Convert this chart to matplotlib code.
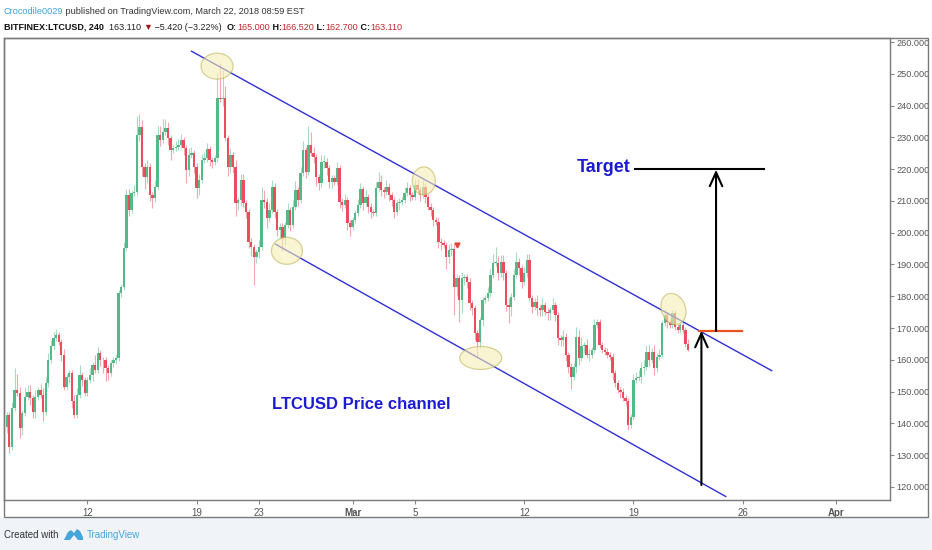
import pandas as pd
import matplotlib
matplotlib.use("Agg")
import matplotlib.pyplot as plt
import matplotlib.dates as mdates
import matplotlib.transforms as mtransforms
from matplotlib.patches import Rectangle, Ellipse, Polygon

# BITFINEX:LTCUSD 240 min candles
first_open = 139.0
start = "2018-02-06 20:00"

closes = [
    # Feb 6 - Feb 14
    142.7, 132.7, 144.8, 150.5, 149.5, 138.5, 143.2, 148.4, 150.0, 147.9,
    143.7, 148.4, 150.5, 149.0, 143.7, 152.6, 160.0, 164.2, 166.8, 167.8,
    165.7, 161.5, 151.6, 154.7, 155.8, 146.9, 142.7, 149.0, 155.3, 153.7,
    149.5, 153.7, 155.3, 158.4, 156.8, 162.1, 160.0, 159.8, 157.3, 155.8,
    158.9, 159.8, 160.5,
    # Feb 14 - Feb 22
    180.9, 183.0, 195.1, 211.9, 207.1, 212.4, 212.9, 230.7, 233.4, 220.8,
    217.6, 220.8, 211.9, 210.8, 214.5, 230.7, 229.2, 231.8, 232.8, 229.7,
    226.0, 226.6, 226.9, 227.6, 229.2, 226.6, 219.7, 224.5, 225.0, 220.8,
    214.0, 216.6, 222.9, 223.4, 226.2, 222.9, 222.4, 223.4, 242.3, 242.0,
    242.3, 229.7, 220.8, 224.5, 220.8, 209.3, 210.3,
    # Feb 22 - Mar 2
    216.6, 209.2, 206.6, 197.2, 195.6, 192.5, 194.0, 195.6, 210.3, 209.8,
    204.5, 207.2, 214.5, 206.6, 200.9, 201.9, 198.2, 202.4, 207.2, 202.4,
    208.2, 213.4, 210.3, 218.7, 226.0, 219.2, 227.6, 225.0, 223.9, 217.6,
    215.5, 222.4, 222.4, 220.3, 216.1, 217.1, 216.1, 220.3, 209.8, 208.7,
    210.3, 203.0, 201.9, 204.0, 206.1, 208.7,
    # Mar 2 - Mar 10
    213.7, 209.3, 211.3, 208.2, 206.6, 206.1, 214.0, 216.1, 213.4, 212.9,
    214.5, 211.9, 210.3, 206.6, 209.3, 209.8, 210.3, 212.4, 214.0, 211.9,
    211.3, 215.0, 213.4, 211.9, 214.5, 211.3, 208.2, 207.2, 204.0, 203.5,
    197.2, 196.7, 196.1, 192.5, 194.6, 194.8, 183.0, 185.7, 178.8, 185.7,
    186.0, 184.6, 177.8, 176.2, 168.3, 165.7,
    # Mar 10 - Mar 17
    172.5, 178.8, 179.4, 180.9, 186.7, 190.4, 190.6, 187.2, 190.9, 187.2,
    177.3, 176.7, 179.9, 186.7, 190.9, 188.8, 184.6, 187.2, 191.4, 179.4,
    176.7, 178.3, 176.2, 175.7, 177.3, 175.2, 174.6, 175.7, 177.3, 174.1,
    166.8, 166.3, 167.3, 161.5, 157.9, 154.7, 157.9, 167.3, 160.5, 164.2,
    164.7, 161.5, 161.5, 163.1, 171.0, 172.0,
    # Mar 17 - Mar 22
    164.7, 163.1, 162.6, 161.5, 161.0, 155.8, 152.6, 150.5, 150.0, 147.9,
    146.9, 139.5, 142.1, 153.7, 154.2, 154.7, 157.3, 157.9, 162.6, 160.0,
    162.6, 157.3, 161.0, 161.5, 171.5, 174.1, 172.0, 171.0, 174.6, 170.4,
    169.4, 171.0, 169.4, 165.0, 163.11,
]

upper_wick = [
    1, 1, 2, 7, 5, 2, 1, 3, 2, 2, 1, 2, 1, 2, 2, 2, 2, 2, 2, 2,
    1, 1, 2, 1, 1, 1, 2, 2, 3, 1, 1, 1, 2, 1, 3, 2, 1, 1, 1, 1, 1, 1, 1,
    1, 1, 2, 2, 2, 1, 2, 6, 4, 2, 1, 2, 1, 1, 2, 3, 3, 4, 3, 2,
    1, 1, 2, 2, 2, 1, 1, 2, 2, 1, 1, 2, 2, 2, 2, 1, 1, 1, 8, 11, 9, 4, 1, 2, 1, 2, 1,
    2, 2, 1, 1, 1, 1, 1, 2, 4, 3, 1, 2, 2, 1, 1, 1, 1, 1, 2, 1,
    2, 3, 1, 2, 3, 1, 6, 4, 2, 1, 1, 2, 2, 1, 1, 1, 1, 2, 1, 1, 2, 1, 1, 1, 1, 2,
    2, 1, 2, 1, 1, 1, 2, 3, 2, 1, 2, 1, 1, 1, 1, 1, 1, 2, 2, 1,
    1, 2, 2, 1, 2, 1, 1, 1, 1, 1, 1, 1, 1, 1, 2, 2, 2, 1, 1, 2, 1, 1, 1, 1, 1, 1,
    1, 1, 1, 2, 2, 3, 5, 2, 2, 2, 1, 2, 1, 2, 3, 1, 1, 2, 2, 2,
    1, 1, 2, 1, 2, 1, 1, 1, 2, 1, 1, 1, 2, 1, 1, 1, 1, 3, 2, 3, 1, 2, 2, 1, 2, 1,
    1, 1, 1, 1, 1, 1, 1, 1, 1, 1, 1, 1, 1, 2, 2, 2, 2, 2, 2, 2,
    1, 2, 1, 2, 1, 2, 1, 1, 1, 1, 1, 1, 1, 1, 1.52,
]

lower_wick = [
    2, 2, 1, 1, 1, 3, 2, 1, 1, 2, 2, 2, 1, 1, 3, 1, 1, 1, 1, 1,
    1, 2, 1, 1, 2, 2, 1, 1, 1, 2, 1, 1, 1, 2, 1, 1, 2, 4, 4, 2, 1, 1, 1,
    1, 1, 1, 1, 2, 1, 1, 1, 2, 3, 4, 2, 2, 3, 1, 1, 2, 1, 1, 2,
    3, 1, 1, 1, 1, 2, 4, 2, 1, 2, 3, 2, 1, 1, 1, 2, 2, 1, 1, 1, 2, 1, 3, 2, 2, 4, 2,
    2, 1, 2, 2, 3, 9, 2, 2, 1, 2, 3, 1, 1, 2, 2, 3, 4, 2, 1, 2,
    1, 1, 2, 1, 1, 2, 1, 1, 2, 3, 2, 1, 2, 2, 2, 2, 1, 1, 2, 2, 1, 2, 3, 1, 1, 1,
    1, 2, 1, 2, 2, 1, 1, 1, 2, 2, 1, 2, 2, 2, 1, 2, 1, 1, 1, 2,
    1, 1, 1, 2, 1, 2, 1, 2, 2, 1, 2, 2, 1, 4, 2, 2, 9, 3, 7, 4, 2, 2, 2, 2, 2, 5,
    2, 2, 1, 1, 1, 1, 1, 2, 1, 2, 2, 5, 3, 1, 1, 2, 2, 1, 1, 1,
    2, 1, 2, 2, 2, 1, 2, 2, 1, 2, 2, 2, 2, 2, 2, 4, 1, 2, 2, 1, 2, 1, 2, 1, 1, 1,
    1, 1, 1, 1, 1, 2, 1, 1, 2, 1, 1, 1.5, 1, 1, 1, 1, 2, 2, 1, 2,
    1, 2, 1, 1, 1, 1, 2, 1, 1, 1, 1, 1, 1, 1, 0.41,
]

price_ticks = [120, 130, 140, 150, 160, 170, 180, 190, 200, 210, 220, 230, 240, 250, 260]
date_ticks = ["2018-02-12", "2018-02-19", "2018-02-23", "2018-03-01", "2018-03-05",
              "2018-03-12", "2018-03-19", "2018-03-26", "2018-04-01"]
date_labels = ["12", "19", "23", "Mar", "5", "12", "19", "26", "Apr"]

# drawings on the chart
channel_upper = [("2018-02-18 15:20", 257.2), ("2018-03-27 21:30", 156.5)]
channel_lower = [("2018-02-24 00:30", 196.5), ("2018-03-24 22:50", 116.9)]
# touch circles: centre time, centre price, size in px (w, h), tilt in degrees
touch_marks = [
    ("2018-02-20 07:30", 252.4, 32, 26, 0),
    ("2018-02-24 19:00", 194.3, 31, 27, 0),
    ("2018-03-05 13:30", 216.3, 23, 28, 0),
    ("2018-03-09 05:00", 160.6, 42, 23, 0),
    ("2018-03-21 13:30", 176.0, 24, 32, 20),
]
breakout_level = [("2018-03-23 05:20", 169.1), ("2018-03-25 23:20", 169.1)]
arrow_low = [("2018-03-23 08:30", 120.6), ("2018-03-23 08:30", 169.1)]
arrow_up = [("2018-03-24 07:00", 169.1), ("2018-03-24 07:00", 219.8)]
target_line = [("2018-03-19 03:00", 219.9), ("2018-03-27 09:00", 219.9)]
target_text = ("2018-03-17 02:00", 220.4)
channel_text = ("2018-03-01 14:00", 145.8)
event_mark = ("2018-03-07 16:30", 196.1)

UP = "#53b987"
DOWN = "#eb4d5c"
BLUE_LINE = "#2f2fd6"
TEXT_BLUE = "#1b1bd3"
GRAY = "#555555"

times = pd.date_range(start, periods=len(closes), freq="4h")
x = mdates.date2num(times)
opens = [first_open] + closes[:-1]
highs = [max(o, c) + w for o, c, w in zip(opens, closes, upper_wick)]
lows = [min(o, c) - w for o, c, w in zip(opens, closes, lower_wick)]
colors = [UP if c >= o else DOWN for o, c in zip(opens, closes)]

W, H = 932, 550
DPI = 100
fig = plt.figure(figsize=(W / DPI, H / DPI), dpi=DPI)
fig.patch.set_facecolor("white")

# bottom strip
fig.add_artist(Rectangle((0, 0), 1, 33 / H, transform=fig.transFigure,
                         facecolor="#f0f3f8", edgecolor="none", zorder=0))

ax = fig.add_axes([4 / W, 50 / H, 886 / W, 462 / H])
ax.vlines(x, lows, highs, colors=colors, linewidth=0.8, alpha=0.5, zorder=2)
bottoms = [min(o, c) for o, c in zip(opens, closes)]
heights = [max(abs(c - o), 0.3) for o, c in zip(opens, closes)]
ax.bar(x, heights, bottom=bottoms, width=0.15, color=colors, linewidth=0, zorder=3)

base = mdates.date2num(pd.Timestamp("2018-02-12"))
ax.set_xlim(base - 5.34, base + 51.44)
ax.set_ylim(115.9, 261.26)


def dn(pts):
    return mdates.date2num(pd.to_datetime([p[0] for p in pts])), [p[1] for p in pts]


# channel
for pts in (channel_upper, channel_lower):
    lx, ly = dn(pts)
    ax.plot(lx, ly, color=BLUE_LINE, linewidth=1.0, zorder=4, solid_capstyle="butt")

# circles are sized in pixels so the tilt is not distorted by the axis scales
for t, p, w, h, tilt in touch_marks:
    where = mtransforms.ScaledTranslation(mdates.date2num(pd.Timestamp(t)), p, ax.transData)
    ax.add_patch(Ellipse((0, 0), w / DPI, h / DPI, angle=tilt,
                         transform=fig.dpi_scale_trans + where,
                         facecolor="#f6eeb4", alpha=0.6, edgecolor="#bfb55a",
                         linewidth=0.9, zorder=5))

bx, by = dn(breakout_level)
ax.plot(bx, by, color="#e8531f", linewidth=1.6, zorder=6)
tx, ty = dn(target_line)
ax.plot(tx, ty, color="black", linewidth=1.5, zorder=6)

for pts in (arrow_low, arrow_up):
    px, py = dn(pts)
    ax.annotate("", xy=(px[1], py[1]), xytext=(px[0], py[0]),
                arrowprops=dict(arrowstyle="->,head_length=1.0,head_width=0.45",
                                color="black", lw=1.5, mutation_scale=10,
                                shrinkA=0, shrinkB=0), zorder=7)

ax.text(mdates.date2num(pd.Timestamp(target_text[0])), target_text[1], "Target",
        color=TEXT_BLUE, fontsize=13, fontweight="bold", family="Liberation Sans",
        ha="center", va="center", zorder=8)
ax.text(mdates.date2num(pd.Timestamp(channel_text[0])), channel_text[1], "LTCUSD Price channel",
        color=TEXT_BLUE, fontsize=12, fontweight="bold", family="Liberation Sans",
        ha="center", va="center", zorder=8)
ax.plot([mdates.date2num(pd.Timestamp(event_mark[0]))], [event_mark[1]], marker="v",
        color="#e0443a", markersize=3.5, linestyle="none", zorder=8)

# axes styling
for s in ax.spines.values():
    s.set_color("#7a7a7a")
    s.set_linewidth(1.0)
ax.yaxis.tick_right()
ax.set_yticks(price_ticks)
ax.set_yticklabels([f"{v:.3f}" for v in price_ticks])
ax.set_xticks(mdates.date2num(pd.to_datetime(date_ticks)))
ax.set_xticklabels(date_labels)
ax.tick_params(axis="both", direction="out", length=3, color="#888888",
               labelcolor=GRAY, labelsize=6.6, pad=1.5)
ax.tick_params(axis="x", pad=3, labelsize=7)
for lab in ax.get_xticklabels() + ax.get_yticklabels():
    lab.set_family("Liberation Sans")
for lab in ax.get_xticklabels():
    if lab.get_text() in ("Mar", "Apr"):
        lab.set_fontweight("bold")

# outer frame around plot + scales
fig.add_artist(Rectangle((4 / W, 33 / H), 924 / W, 479 / H, transform=fig.transFigure,
                         fill=False, edgecolor="#7a7a7a", linewidth=1.0, zorder=10))

# header lines
HEAD_FONT = ["Liberation Sans", "DejaVu Sans"]


def header(parts, y, size):
    prev = None
    for s, c, wgt in parts:
        kw = dict(color=c, fontsize=size, fontweight=wgt, family=HEAD_FONT,
                  ha="left", va="baseline", annotation_clip=False)
        if prev is None:
            prev = ax.annotate(s, xy=(4 / W, 1 - y / H), xycoords="figure fraction", **kw)
        else:
            prev = ax.annotate(s, xy=(1, 1 - y / H), xycoords=(prev, "figure fraction"), **kw)


header([("Crocodile0029", "#3ca0d8", "normal"),
        (" published on TradingView.com, March 22, 2018 08:59 EST", "#333333", "normal")],
       14.5, 6.6)
RED = "#c0282d"
header([("BITFINEX:LTCUSD, 240", "#111111", "bold"),
        ("  163.110 ", "#222222", "normal"),
        ("\u25bc", "#a01818", "normal"),
        (" \u22125.420 (\u22123.22%)  ", "#222222", "normal"),
        ("O:", "#111111", "bold"), ("165.000", RED, "normal"),
        (" H:", "#111111", "bold"), ("166.520", RED, "normal"),
        (" L:", "#111111", "bold"), ("162.700", RED, "normal"),
        (" C:", "#111111", "bold"), ("163.110", RED, "normal")],
       29.5, 6.5)

# footer
fig.text(4 / W, 1 - 535 / H, "Created with", color="#333333", fontsize=7,
         family=HEAD_FONT, ha="left", va="center")
logo = [(64, 540), (68, 532), (71, 530), (74, 533), (77, 529), (80, 531), (83, 537),
        (83, 540), (78, 540), (74, 535), (70, 540)]
fig.add_artist(Polygon([(px / W, 1 - py / H) for px, py in logo], closed=True,
                       transform=fig.transFigure, facecolor="#45a6dc", edgecolor="none"))
fig.text(87 / W, 1 - 535 / H, "TradingView", color="#45a6dc", fontsize=7,
         family=HEAD_FONT, ha="left", va="center")

fig.savefig("out.png", dpi=DPI)
